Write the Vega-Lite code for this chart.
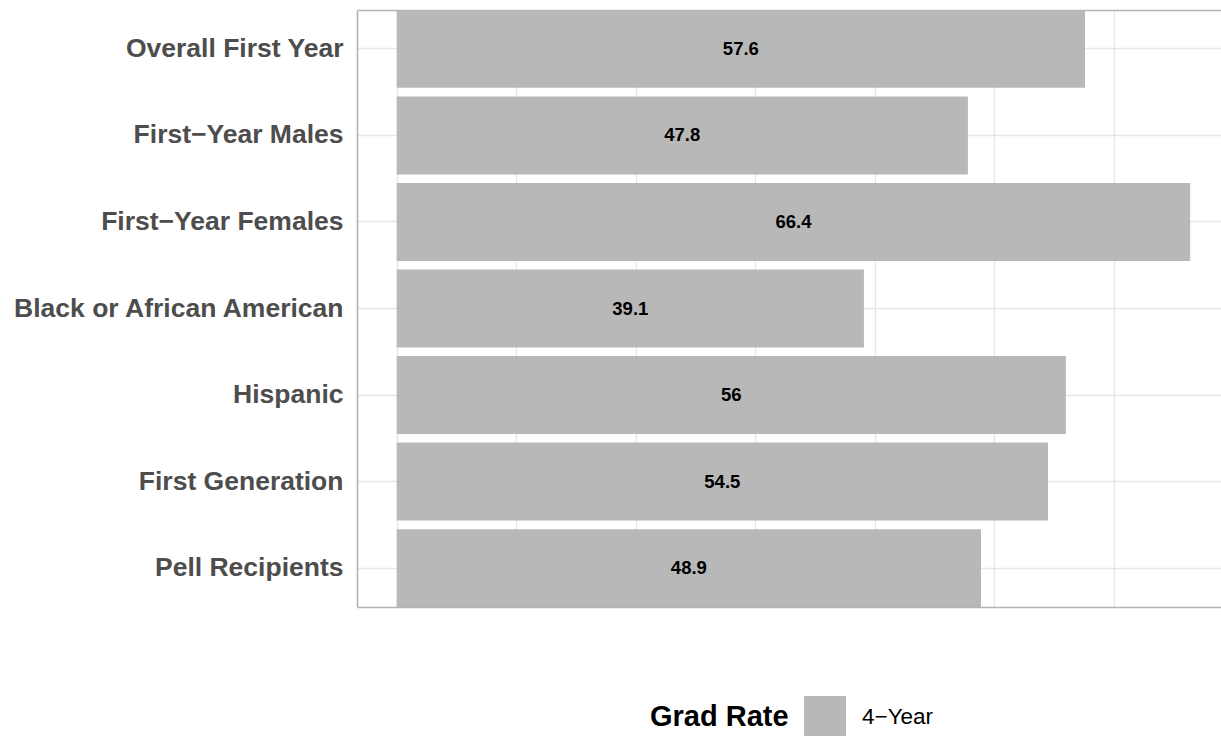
{
  "$schema": "https://vega.github.io/schema/vega-lite/v6.json",
  "width": 864,
  "height": 597,
  "autosize": {"type": "none"},
  "padding": {"left": 357, "top": 10, "right": 0, "bottom": 129},
  "background": "white",
  "config": {
    "view": {"stroke": null},
    "font": "Liberation Sans"
  },
  "data": {
    "values": [
      {"group": "Overall First Year", "rate": 57.6, "type": "4−Year"},
      {"group": "First−Year Males", "rate": 47.8, "type": "4−Year"},
      {"group": "First−Year Females", "rate": 66.4, "type": "4−Year"},
      {"group": "Black or African American", "rate": 39.1, "type": "4−Year"},
      {"group": "Hispanic", "rate": 56, "type": "4−Year"},
      {"group": "First Generation", "rate": 54.5, "type": "4−Year"},
      {"group": "Pell Recipients", "rate": 48.9, "type": "4−Year"}
    ]
  },
  "encoding": {
    "y": {
      "field": "group",
      "type": "nominal",
      "sort": null,
      "scale": {"paddingInner": 0.1, "paddingOuter": 0},
      "axis": {
        "title": null,
        "ticks": false,
        "domain": true,
        "domainColor": "#B3B3B3",
        "domainWidth": 1.6,
        "grid": true,
        "gridColor": "#E6E6E6",
        "gridWidth": 1.3,
        "bandPosition": 0.5,
        "labelFont": "Liberation Sans",
        "labelFontSize": 26.5,
        "labelFontWeight": "bold",
        "labelColor": "#4D4D4D",
        "labelPadding": 14,
        "labelLimit": 0
      }
    }
  },
  "layer": [
    {
      "mark": {"type": "bar"},
      "encoding": {
        "x": {
          "field": "rate",
          "type": "quantitative",
          "scale": {"domain": [-3.32, 68.98], "nice": false, "zero": false},
          "axis": {
            "title": null,
            "orient": "bottom",
            "labels": false,
            "ticks": false,
            "values": [0, 10, 20, 30, 40, 50, 60],
            "domain": true,
            "domainColor": "#B3B3B3",
            "domainWidth": 1.6,
            "grid": true,
            "gridColor": "#E6E6E6",
            "gridWidth": 1.3
          }
        },
        "x2": {"datum": 0},
        "fill": {
          "field": "type",
          "type": "nominal",
          "scale": {"range": ["#B8B8B8"]},
          "legend": {
            "title": "Grad Rate",
            "orient": "none",
            "legendX": 293,
            "legendY": 686,
            "direction": "horizontal",
            "titleOrient": "left",
            "titleFont": "Liberation Sans",
            "titleFontSize": 29,
            "titleFontWeight": "bold",
            "titleColor": "black",
            "titlePadding": 15,
            "titleBaseline": "middle",
            "labelFont": "Liberation Sans",
            "labelFontSize": 22.5,
            "labelColor": "black",
            "labelOffset": 16,
            "symbolType": "square",
            "symbolSize": 1764,
            "symbolStrokeWidth": 0
          }
        }
      }
    },
    {
      "transform": [{"calculate": "datum.rate / 2", "as": "mid"}],
      "mark": {"type": "text", "font": "Liberation Sans", "fontSize": 18.5, "fontWeight": "bold", "color": "black"},
      "encoding": {
        "x": {
          "field": "mid",
          "type": "quantitative",
          "scale": {"domain": [-3.32, 68.98], "nice": false, "zero": false},
          "axis": {
            "title": null,
            "orient": "top",
            "labels": false,
            "ticks": false,
            "grid": false,
            "domain": true,
            "domainColor": "#B3B3B3",
            "domainWidth": 1.6
          }
        },
        "text": {"field": "rate", "type": "nominal"}
      }
    }
  ],
  "resolve": {"axis": {"x": "independent"}}
}
